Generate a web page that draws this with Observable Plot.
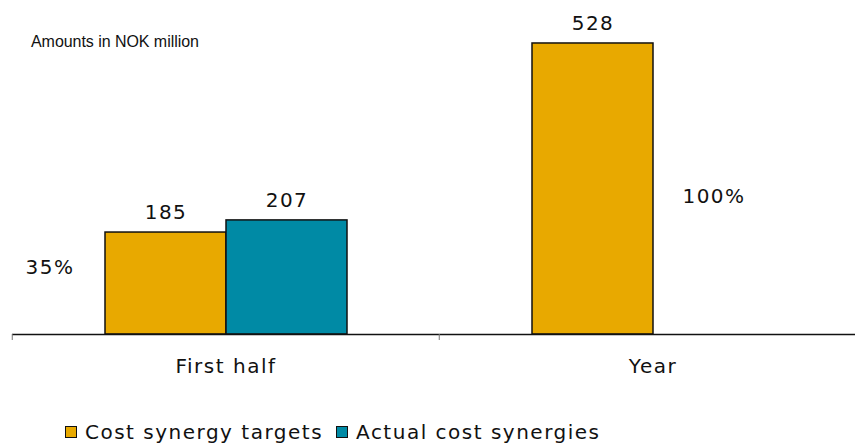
<!DOCTYPE html>
<html>
<head>
<meta charset="utf-8">
<script src="https://cdn.jsdelivr.net/npm/d3@7"></script>
<script src="https://cdn.jsdelivr.net/npm/@observablehq/plot@0.6"></script>
<style>
  html, body { margin: 0; padding: 0; background: #fff; }
  #wrap { position: relative; width: 855px; height: 446px; overflow: hidden; font-family: "DejaVu Sans", Verdana, sans-serif; }
  #chart svg text { letter-spacing: 1.5px; }
  #note { position: absolute; left: 31px; top: 33px; font-family: "Liberation Sans", Arial, sans-serif; font-size: 16px; color: #111; letter-spacing: -0.05px; }
  #legend { position: absolute; left: 65px; top: 421px; display: flex; align-items: center; font-size: 20px; line-height: 22px; color: #111; letter-spacing: 1.5px; }
  .sw { width: 10px; height: 10px; border: 1.5px solid #111; margin-right: 8px; }
  .item { display: flex; align-items: center; margin-right: 13px; }
</style>
</head>
<body>
<div id="wrap">
  <div id="chart"></div>
  <div id="note">Amounts in NOK million</div>
  <div id="legend"></div>
</div>
<script>
const categories = ["First half", "Year"];
const seriesNames = ["Cost synergy targets", "Actual cost synergies"];
const targetValues = [185, 528];
const actualValues = [207, null];
const colors = ["#E8A900", "#008AA5"];
const shareLabels = ["35%", "100%"];
const shareLevels = [121, 250];

const rows = [];
categories.forEach((c, i) => {
  rows.push({cat: c, series: seriesNames[0], value: targetValues[i]});
  if (actualValues[i] != null) rows.push({cat: c, series: seriesNames[1], value: actualValues[i]});
});
const shareRows = [
  {cat: categories[0], series: seriesNames[0], text: shareLabels[0], level: shareLevels[0]},
  {cat: categories[1], series: seriesNames[1], text: shareLabels[1], level: shareLevels[1]}
];

const fontFamily = "DejaVu Sans, Verdana, sans-serif";

const chart = Plot.plot({
  width: 855,
  height: 400,
  marginLeft: 11,
  marginRight: -11,
  marginTop: 3.3,
  marginBottom: 66,
  style: {fontFamily, background: "white", overflow: "hidden"},
  fx: {domain: categories, padding: 0, label: null},
  x: {domain: seriesNames, paddingInner: 0, paddingOuter: 0.754, axis: null},
  y: {domain: [0, 600], axis: null},
  color: {domain: seriesNames, range: colors},
  marks: [
    Plot.barY(rows, {fx: "cat", x: "series", y: "value", fill: "series", stroke: "#111", strokeWidth: 1.5}),
    Plot.text(rows, {fx: "cat", x: "series", y: "value", text: d => String(d.value), dy: -20, fontSize: 20, fill: "#111"}),
    Plot.text([shareRows[0]], {fx: "cat", x: "series", y: "level", text: "text", dx: -116, fontSize: 20, fill: "#111"}),
    Plot.text([shareRows[1]], {fx: "cat", x: "series", y: "level", text: "text", fontSize: 20, fill: "#111"}),
    Plot.ruleY([0], {stroke: "#111", strokeWidth: 1.5}),
    Plot.axisFx({anchor: "bottom", tickSize: 0, tickPadding: 24, fontSize: 20, label: null, fill: "#111"}),
    Plot.axisFx({anchor: "bottom", tickSize: 6, tickFormat: () => "", label: null, dx: -213.75, stroke: "#777"})
  ]
});
document.getElementById("chart").appendChild(chart);

const legend = document.getElementById("legend");
seriesNames.forEach((s, i) => {
  const item = document.createElement("div");
  item.className = "item";
  const sw = document.createElement("div");
  sw.className = "sw";
  sw.style.background = colors[i];
  const t = document.createElement("span");
  t.textContent = s;
  item.appendChild(sw);
  item.appendChild(t);
  legend.appendChild(item);
});
</script>
</body>
</html>
